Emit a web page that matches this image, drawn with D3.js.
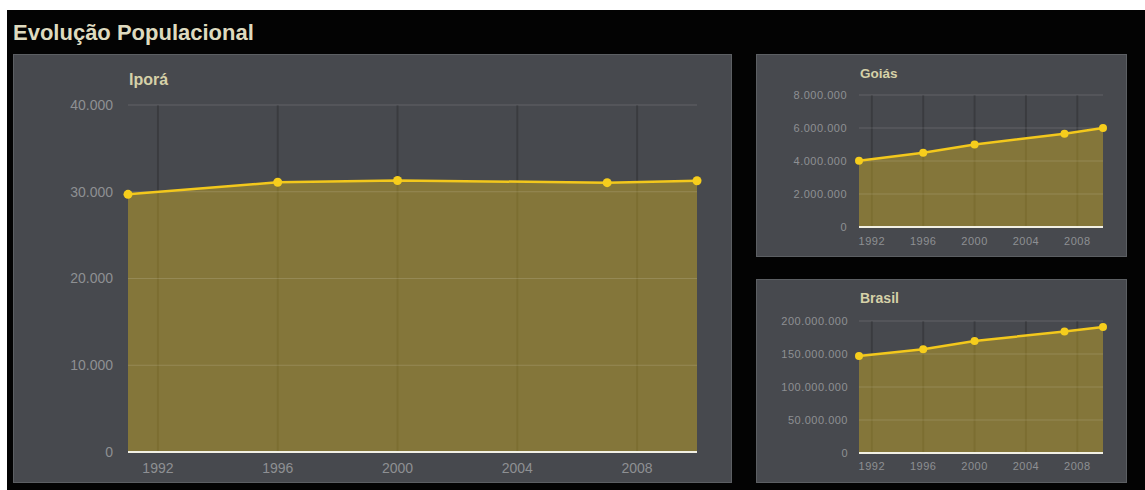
<!DOCTYPE html>
<html><head><meta charset="utf-8">
<script src="https://cdn.jsdelivr.net/npm/d3@7"></script>
<style>
html,body{margin:0;padding:0;background:#fff;}
svg{display:block;font-family:"Liberation Sans",Arial,Helvetica,sans-serif;}
</style></head>
<body>
<svg id="c" width="1145" height="490"></svg>
<script>
// ---- data ----
const years = [1991, 1996, 2000, 2007, 2010];
const iporaValues = [29700, 31100, 31300, 31050, 31270];
const goiasValues = [4018903, 4501538, 5003228, 5647035, 6003788];
const brasilValues = [146825475, 157070163, 169799170, 183987291, 190755799];
const xTickYears = [1992, 1996, 2000, 2004, 2008];
const iporaYTicks = [0, 10000, 20000, 30000, 40000];
const goiasYTicks = [0, 2000000, 4000000, 6000000, 8000000];
const brasilYTicks = [0, 50000000, 100000000, 150000000, 200000000];
const chartTitle = "Evolução Populacional";

const loc = d3.formatLocale({decimal: ",", thousands: ".", grouping: [3], currency: ["R$", ""]});
const fmt = loc.format(",d");

const svg = d3.select("#c");
svg.append("rect").attr("x", 0).attr("y", 0).attr("width", 1145).attr("height", 490).attr("fill", "#ffffff");
svg.append("rect").attr("x", 7).attr("y", 10).attr("width", 1138).attr("height", 480).attr("fill", "#030303");

svg.append("text").attr("x", 13).attr("y", 40).text(chartTitle)
  .attr("font-size", 22).attr("font-weight", "bold").attr("fill", "#dedabf");

function panel(cfg) {
  const g = svg.append("g");
  g.append("rect").attr("x", cfg.px).attr("y", cfg.py).attr("width", cfg.pw).attr("height", cfg.ph)
    .attr("fill", "#47494e").attr("stroke", "#5c5f63").attr("stroke-width", 1);

  const x = d3.scaleLinear().domain([1991, 2010]).range([cfg.x0, cfg.x1]);
  const y = d3.scaleLinear().domain([0, cfg.yMax]).range([cfg.y0, cfg.y1]);

  // vertical grid
  g.append("g").selectAll("line").data(xTickYears).join("line")
    .attr("x1", d => x(d)).attr("x2", d => x(d))
    .attr("y1", cfg.y1).attr("y2", cfg.y0)
    .attr("stroke", "#000").attr("stroke-opacity", 0.18).attr("stroke-width", 2);

  // area
  const pts = years.map((yr, i) => [yr, cfg.values[i]]);
  g.append("path").datum(pts)
    .attr("d", d3.area().x(d => x(d[0])).y0(y(0)).y1(d => y(d[1])))
    .attr("fill", "#d9b41e").attr("fill-opacity", 0.42);

  // horizontal grid
  g.append("g").selectAll("line").data(cfg.yTicks.filter(d => d > 0)).join("line")
    .attr("x1", cfg.x0).attr("x2", cfg.x1)
    .attr("y1", d => y(d)).attr("y2", d => y(d))
    .attr("stroke", "#ffffff").attr("stroke-opacity", 0.14).attr("stroke-width", 1);

  // baseline
  g.append("line").attr("x1", cfg.x0).attr("x2", cfg.x1).attr("y1", y(0)).attr("y2", y(0))
    .attr("stroke", "#f2f0e4").attr("stroke-width", 2);

  // line
  g.append("path").datum(pts)
    .attr("d", d3.line().x(d => x(d[0])).y(d => y(d[1])))
    .attr("fill", "none").attr("stroke", "#f3c81c").attr("stroke-width", cfg.lw);

  g.append("g").selectAll("circle").data(pts).join("circle")
    .attr("cx", d => x(d[0])).attr("cy", d => y(d[1])).attr("r", cfg.r)
    .attr("fill", "#f6cd1c");

  // y labels
  g.append("g").selectAll("text").data(cfg.yTicks).join("text")
    .attr("x", cfg.yLabX).attr("y", d => y(d)).attr("dy", "0.35em")
    .attr("text-anchor", "end").attr("font-size", cfg.fs).attr("letter-spacing", cfg.ls)
    .attr("fill", "#8e9093")
    .text(d => fmt(d));

  // x labels
  g.append("g").selectAll("text").data(xTickYears).join("text")
    .attr("x", d => x(d)).attr("y", cfg.xLabY).attr("dy", "0.35em")
    .attr("text-anchor", "middle").attr("font-size", cfg.fs).attr("letter-spacing", cfg.ls)
    .attr("fill", "#8e9093")
    .text(d => d);

  g.append("text").attr("x", cfg.x0 + 1).attr("y", cfg.ty).text(cfg.title)
    .attr("font-size", cfg.tfs).attr("font-weight", "bold").attr("fill", "#d6d1a8");
}

panel({px: 13.5, py: 54.5, pw: 718, ph: 428, x0: 128, x1: 697, y0: 452, y1: 105,
  yMax: 40000, yTicks: iporaYTicks, values: iporaValues, title: "Iporá", ty: 85, tfs: 16,
  fs: 14, ls: 0, yLabX: 113, xLabY: 468, lw: 2.5, r: 4.5});
panel({px: 756.5, py: 54.5, pw: 370, ph: 202, x0: 859, x1: 1103, y0: 227, y1: 95,
  yMax: 8000000, yTicks: goiasYTicks, values: goiasValues, title: "Goiás", ty: 78, tfs: 13.5,
  fs: 11, ls: 0.5, yLabX: 847, xLabY: 241, lw: 2.5, r: 4});
panel({px: 756.5, py: 279.5, pw: 370, ph: 203, x0: 859, x1: 1103, y0: 453, y1: 321,
  yMax: 200000000, yTicks: brasilYTicks, values: brasilValues, title: "Brasil", ty: 303, tfs: 14,
  fs: 11, ls: 0.5, yLabX: 848, xLabY: 466, lw: 2.5, r: 4});
</script>
</body></html>
